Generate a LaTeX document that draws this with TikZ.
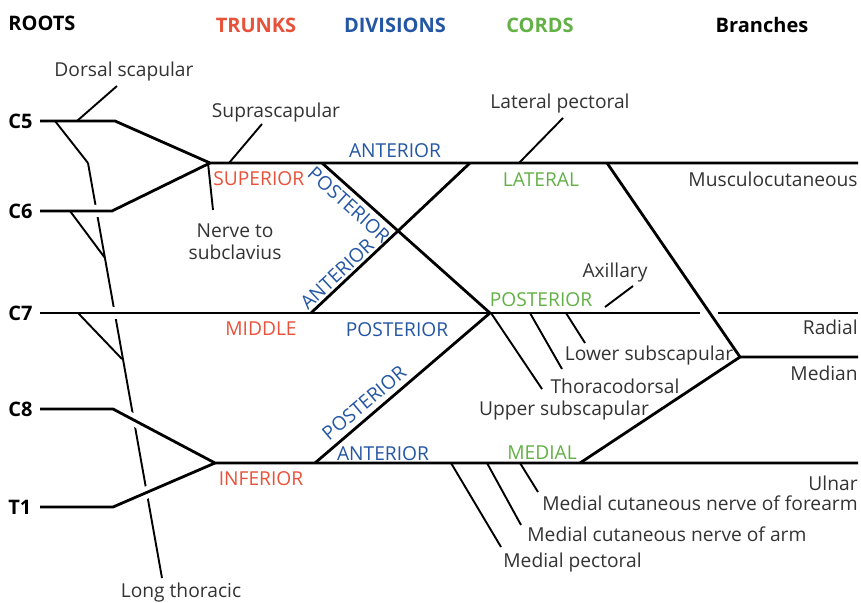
\documentclass[tikz,border=0pt]{standalone}
\usepackage{fontspec}
\setmainfont{Open Sans}
\usepackage{tikz}

\definecolor{trunkred}{HTML}{E8513A}
\definecolor{divblue}{HTML}{2456A4}
\definecolor{cordgreen}{HTML}{62B046}
\definecolor{txtgray}{HTML}{333333}

\begin{document}
\begin{tikzpicture}[
    x=0.5pt, y=-0.5pt,
    every node/.style={font=\fontsize{9.6}{11}\selectfont,text=txtgray,inner sep=0pt,align=center},
    head/.style={font=\fontsize{10}{12}\selectfont\bfseries},
    root/.style={head,text=black,anchor=mid west},
    trunk/.style={text=trunkred},
    division/.style={text=divblue},
    cord/.style={text=cordgreen},
    nerve/.style={draw,line width=1.4pt},
    branch/.style={draw,line width=0.95pt},
    gap/.style={draw=white,line width=6pt}
]
\useasboundingbox (0,0) rectangle (861,603);

\node[root] (roots) at (8,25) {ROOTS};
\node[head,text=trunkred] (trunks) at (256,25) {TRUNKS};
\node[head,text=divblue] (divisions) at (395,25) {DIVISIONS};
\node[head,text=cordgreen] (cords) at (540,25) {CORDS};
\node[head,text=black] (branches) at (762,25) {Branches};

\node[root] (C5) at (8,123) {C5};
\node[root] (C6) at (8,213) {C6};
\node[root] (C7) at (8,315) {C7};
\node[root] (C8) at (8,411) {C8};
\node[root] (T1) at (8,509) {T1};

\coordinate (c5a) at (40,121);  \coordinate (c5b) at (115,121);
\coordinate (c6a) at (40,211);  \coordinate (c6b) at (112,211);
\coordinate (c7a) at (40,313);  \coordinate (c7gap) at (200,313);
\coordinate (c8a) at (40,409);  \coordinate (c8b) at (113,409);
\coordinate (t1a) at (40,507);  \coordinate (t1b) at (113,507);
\coordinate (sup) at (210,163); \coordinate (supEnd) at (858,163);
\coordinate (inf) at (215,463); \coordinate (infEnd) at (858,463);
\coordinate (supPost) at (322,163);
\coordinate (midAnt) at (311,313);
\coordinate (infPost) at (315,463);
\coordinate (latCord) at (470,163);
\coordinate (postCord) at (490,313);
\coordinate (latMed) at (607,163);
\coordinate (medMed) at (580,463);
\coordinate (medJoin) at (740,357);
\coordinate (medEnd) at (858,357);
\coordinate (postGapL) at (700,313);
\coordinate (postGapR) at (718,313);
\coordinate (radEnd) at (858,313);

\coordinate (lt0) at (55,121);  \coordinate (lt1) at (88,163);  \coordinate (lt2) at (162,578);
\coordinate (lt6a) at (70,211); \coordinate (lt6b) at (105,258);
\coordinate (lt7a) at (78,313); \coordinate (lt7b) at (122,359);
\coordinate (ds0) at (77,121);  \coordinate (ds1) at (117,86);
\coordinate (ns0) at (208,163); \coordinate (ns1) at (213,210);
\coordinate (ss0) at (229,163); \coordinate (ss1) at (262,124);
\coordinate (lp0) at (519,163); \coordinate (lp1) at (563,118);
\coordinate (ax0) at (605,307); \coordinate (ax1) at (633,286);
\coordinate (ls0) at (566,313); \coordinate (ls1) at (585,343);
\coordinate (td0) at (530,313); \coordinate (td1) at (562,369);
\coordinate (us0) at (491,313); \coordinate (us1) at (542,389);
\coordinate (mf0) at (520,463); \coordinate (mf1) at (538,492);
\coordinate (ma0) at (487,463); \coordinate (ma1) at (521,525);
\coordinate (mp0) at (451,463); \coordinate (mp1) at (501,547);

\draw[branch] (lt1) -- (lt2);
\draw[gap] (c6a) -- (c6b) -- (sup);
\draw[gap] (c7a) -- (c7gap);
\draw[gap] (c8a) -- (c8b) -- (inf);
\draw[gap] (t1a) -- (t1b) -- (inf);

\draw[nerve] (c5a) -- (c5b) -- (sup) -- (supEnd);
\draw[nerve] (c6a) -- (c6b) -- (sup);
\draw[nerve] (c7a) -- (postGapL);
\draw[nerve] (postGapR) -- (radEnd);
\draw[nerve] (c8a) -- (c8b) -- (inf) -- (infEnd);
\draw[nerve] (t1a) -- (t1b) -- (inf);
\draw[nerve] (supPost) -- (postCord);
\draw[nerve] (midAnt) -- (latCord);
\draw[nerve] (infPost) -- (postCord);
\draw[nerve] (latMed) -- (medJoin) -- (medEnd);
\draw[nerve] (medMed) -- (medJoin);

\draw[branch] (lt0) -- (lt1);
\draw[branch] (lt6a) -- (lt6b);
\draw[branch] (lt7a) -- (lt7b);
\draw[branch] (ds0) -- (ds1);
\draw[branch] (ns0) -- (ns1);
\draw[branch] (ss0) -- (ss1);
\draw[branch] (lp0) -- (lp1);
\draw[branch] (ax0) -- (ax1);
\draw[branch] (ls0) -- (ls1);
\draw[branch] (td0) -- (td1);
\draw[branch] (us0) -- (us1);
\draw[branch] (mf0) -- (mf1);
\draw[branch] (ma0) -- (ma1);
\draw[branch] (mp0) -- (mp1);

\node (dorsal) at (124,72) {Dorsal scapular};
\node (suprascap) at (276,113) {Suprascapular};
\node (subclav) at (235,242) {Nerve to\\subclavius};
\node (longthor) at (181,593) {Long thoracic};
\node[trunk,anchor=mid west] (superior) at (213,180) {SUPERIOR};
\node[trunk] (middle) at (261,329) {MIDDLE};
\node[trunk] (inferior) at (261,479) {INFERIOR};
\node[division] (supAnt) at (395,151) {ANTERIOR};
\node[division,rotate=-42] (supPostL) at (349,205) {POSTERIOR};
\node[division,rotate=43] (midAntL) at (337,274) {ANTERIOR};
\node[division] (midPostL) at (397,330) {POSTERIOR};
\node[division,rotate=40] (infPostL) at (364,403) {POSTERIOR};
\node[division] (infAnt) at (383,454) {ANTERIOR};
\node[cord] (lateral) at (541,180) {LATERAL};
\node[cord] (posterior) at (541,300) {POSTERIOR};
\node[cord] (medial) at (542,453) {MEDIAL};
\node (latpect) at (560,104) {Lateral pectoral};
\node (axillary) at (615,273) {Axillary};
\node (lowsub) at (649,356) {Lower subscapular};
\node (thoraco) at (615,386) {Thoracodorsal};
\node (upsub) at (564,411) {Upper subscapular};
\node[anchor=mid east] (musculo) at (858,181) {Musculocutaneous};
\node[anchor=mid east] (radial) at (858,329) {Radial};
\node[anchor=mid east] (median) at (858,375) {Median};
\node[anchor=mid east] (ulnar) at (858,485) {Ulnar};
\node[anchor=mid east] (mcnfore) at (858,505) {Medial cutaneous nerve of forearm};
\node[anchor=mid west] (mcnarm) at (527,536) {Medial cutaneous nerve of arm};
\node[anchor=mid west] (medpect) at (503,562) {Medial pectoral};
\end{tikzpicture}
\end{document}
